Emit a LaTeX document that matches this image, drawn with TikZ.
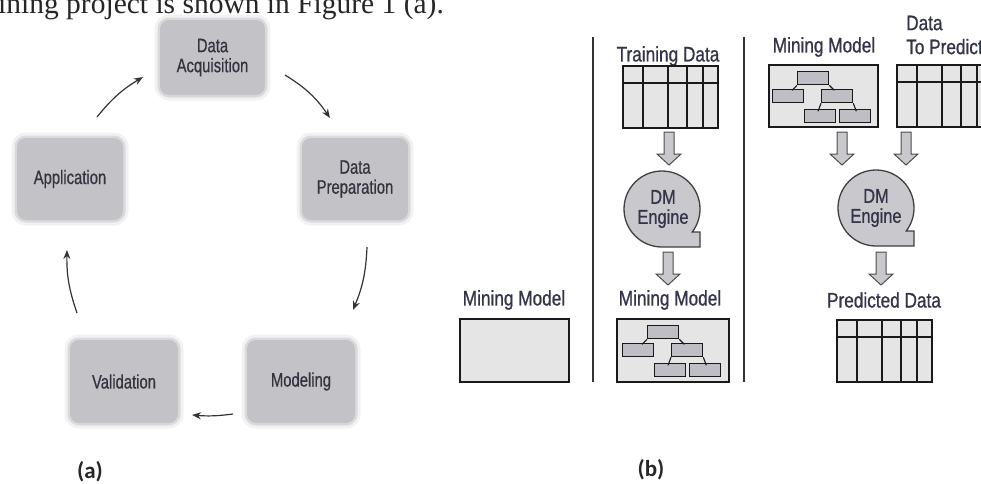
\documentclass[tikz,border=0pt]{standalone}
\usepackage{fontspec}
\setmainfont{Liberation Sans}
\newfontfamily\narrowsans[FakeStretch=0.76,FakeBold=0.6]{Liberation Sans}
\newfontfamily\headsans[FakeStretch=0.82,FakeBold=0.8]{Liberation Sans}
\newfontfamily\pageserif{Liberation Serif}
\newfontfamily\captionfont{Carlito}
\usetikzlibrary{arrows.meta}

\definecolor{boxgray}{HTML}{C3C3C7}
\definecolor{inktext}{HTML}{34343E}
\definecolor{headink}{HTML}{33334A}
\definecolor{cellgray}{HTML}{E5E5E5}
\definecolor{enginegray}{HTML}{C9C9CD}
\definecolor{leafgray}{HTML}{BEBEC4}

\tikzset{
  % soft-edged process boxes of the life cycle
  stage/.style={rectangle, rounded corners=9pt, fill=boxgray, text=inktext,
    font=\narrowsans\fontsize{19.5}{20}\selectfont, align=center, inner sep=0pt,
    preaction={draw=boxgray, line width=11pt, draw opacity=0.22},
    preaction={draw=boxgray, line width=5pt, draw opacity=0.5}},
  cyc/.style={draw=black!80, line width=1.2pt, -{Stealth[length=9pt,width=7pt]}},
  caption/.style={font=\captionfont\bfseries\fontsize{23}{26}\selectfont, text=black!85, inner sep=0pt},
  rule/.style={draw=black!80, line width=2pt},
  head/.style={font=\headsans\fontsize{21}{24}\selectfont, text=headink, inner sep=0pt},
  tablebox/.style={rectangle, draw=black!90, line width=1.6pt, fill=cellgray,
    minimum width=95pt, minimum height=62pt, inner sep=0pt},
  gridline/.style={draw=black!90, line width=1.6pt},
  modelbox/.style={rectangle, draw=black!90, line width=1.6pt, fill=cellgray,
    minimum height=63pt, inner sep=0pt},
  leaf/.style={rectangle, draw=black!90, line width=1.3pt, fill=leafgray,
    minimum width=31pt, minimum height=13pt, inner sep=0pt},
  treeedge/.style={draw=black!90, line width=1.1pt},
  enginefill/.style={fill=enginegray, draw=black!75, line width=1.3pt},
  enginetext/.style={font=\headsans\fontsize{20}{20}\selectfont, text=headink, align=center, inner sep=0pt},
  blockfill/.style={fill=enginegray, draw=black!70, line width=1pt},
  % a data table with header row and five columns
  datatable/.pic={
    \node[tablebox, anchor=north west] (-box) at (0,0) {};
    \draw[gridline] (0,18) -- (95,18)
      (21,0) -- (21,62) (46,0) -- (46,62) (65,0) -- (65,62) (81,0) -- (81,62);
  },
  % decision tree drawn inside a mining model
  tree/.pic={
    \node[leaf, anchor=north west] (-t) at (31,7) {};
    \node[leaf, anchor=north west] (-l) at (6,25) {};
    \node[leaf, anchor=north west] (-m) at (55,25) {};
    \node[leaf, anchor=north west] (-bl) at (38,45) {};
    \node[leaf, anchor=north west] (-br) at (73,45) {};
    \draw[treeedge] (-t.south west) -- ++(-5,5);
    \draw[treeedge] (-t.south east) -- ++(5,5);
    \draw[treeedge] (-m.south west) -- ++(-3,8);
    \draw[treeedge] (-m.south east) -- ++(3,8);
  },
  % mining engine: a disc with a squared lower right corner
  engine/.pic={
    \path[enginefill] (0pt,-38pt) arc[start angle=270, end angle=-37.2, radius=38pt]
      -- (38pt,-23pt) -- (38pt,-38pt) -- cycle;
  },
  blockarrow/.pic={
    \path[blockfill] (-5,0) -- (5,0) -- (5,22) -- (12,22) -- (0,33) -- (-12,22) -- (-5,22) -- cycle;
  },
}

\begin{document}
\begin{tikzpicture}[x=1pt,y=-1pt]
\useasboundingbox (0,0) rectangle (981,483);
\clip (0,0) rectangle (981,483);

% running text of the page above the figure
\node[anchor=base west, inner sep=0pt, font=\pageserif\fontsize{29.5}{30}\selectfont, text=black!85]
  (pageline) at (-2,13) {ining project is shown in Figure 1 (a).};

% ---------- (a) life cycle ----------
\node[stage, minimum width=105pt, minimum height=75pt] (acq) at (212.5,57.5) {Data\\Acquisition};
\node[stage, minimum width=106pt, minimum height=82pt] (app) at (70,179) {Application};
\node[stage, minimum width=106pt, minimum height=82pt] (prep) at (355,179) {Data\\Preparation};
\node[stage, minimum width=108pt, minimum height=83pt] (val) at (124,381.5) {Validation};
\node[stage, minimum width=108pt, minimum height=83pt] (mod) at (301,381.5) {Modeling};

\coordinate (app-out) at (97,117);
\coordinate (acq-in) at (143,77);
\coordinate (acq-out) at (285,75);
\coordinate (prep-in) at (330,118);
\coordinate (prep-out) at (367,247);
\coordinate (mod-in) at (353,310);
\coordinate (mod-out) at (233,414);
\coordinate (val-in) at (192,415);
\coordinate (val-out) at (77,313);
\coordinate (app-in) at (67,250);

\draw[cyc] (app-out) to[bend left=10] (acq-in);
\draw[cyc] (acq-out) to[bend left=12] (prep-in);
\draw[cyc] (prep-out) to[bend left=10] (mod-in);
\draw[cyc] (mod-out) to[bend left=6] (val-in);
\draw[cyc] (val-out) to[bend left=10] (app-in);

\node[caption] (capa) at (90,472) {(a)};

% ---------- (b) data mining process ----------
\coordinate (rule1-top) at (593,37);
\coordinate (rule1-bot) at (593,382);
\coordinate (rule2-top) at (744,37);
\coordinate (rule2-bot) at (744,382);
\draw[rule] (rule1-top) -- (rule1-bot);
\draw[rule] (rule2-top) -- (rule2-bot);

% empty model
\node[head] (lblmodel0) at (514,300) {Mining Model};
\node[modelbox, minimum width=109pt, anchor=north west] (model0) at (459,318) {};

% training
\node[head] (lbltrain) at (668,56) {Training Data};
\pic (train) at (622,65) {datatable};
\pic (arr1) at (669,132) {blockarrow};
\pic at (662,209) {engine};
\node[enginetext] (eng1) at (663,209) {DM\\Engine};
\pic (arr2) at (668,252) {blockarrow};
\node[head] (lblmodel1) at (670,300) {Mining Model};
\node[modelbox, minimum width=112pt, anchor=north west] (model1) at (616,318) {};
\pic (tree1) at (616,318) {tree};

% prediction
\node[head] (lblmodel2) at (824,47) {Mining Model};
\node[modelbox, minimum width=109pt, minimum height=62pt, anchor=north west] (model2) at (768,64) {};
\pic (tree2) at (766,64) {tree};
\node[head, align=left, anchor=west] (lblpredict) at (906,35) {Data\\To Predict};
\pic (newdata) at (896,64) {datatable};
\pic (arr3) at (842,132) {blockarrow};
\pic (arr4) at (906,132) {blockarrow};
\pic at (876,208) {engine};
\node[enginetext] (eng2) at (876,208) {DM\\Engine};
\pic (arr5) at (881,252) {blockarrow};
\node[head] (lblpred) at (884,300) {Predicted Data};
\pic (predicted) at (836,319) {datatable};

\node[caption] (capb) at (651,470) {(b)};
\end{tikzpicture}
\end{document}
